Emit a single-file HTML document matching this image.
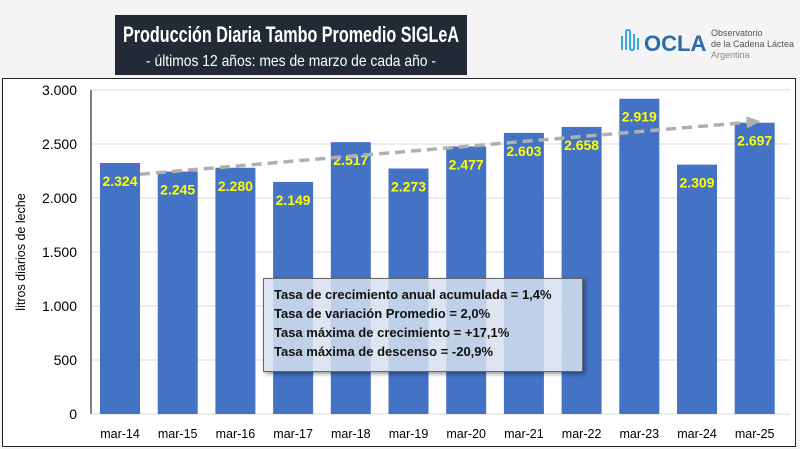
<!DOCTYPE html>
<html><head><meta charset="utf-8"><style>
body{margin:0;width:800px;height:449px;background:#f4f4f4;font-family:"Liberation Sans",sans-serif;overflow:hidden;position:relative}
#title{position:absolute;left:115px;top:15px;width:352px;height:60px;background:#222a35}
#logo{position:absolute;left:618px;top:22px;height:44px}
#frame{position:absolute;left:2px;top:78px;width:792px;height:367px;border:1px solid #222;background:#fff}
#box{position:absolute;left:263px;top:278px;width:320px;height:94px;background:rgba(215,225,240,0.85);border:1px solid #666;box-shadow:2px 2px 4px rgba(0,0,0,.4);font-size:13px;font-weight:bold;line-height:19px;padding:6px 0 0 10px;box-sizing:border-box;color:#111}
</style></head><body>
<div id="frame"></div>
<svg id="chart" width="800" height="449" style="position:absolute;left:0;top:0"></svg>
<svg id="title" width="352" height="60">
<text x="176" y="27" text-anchor="middle" fill="#fff" font-size="22" font-weight="bold" textLength="336" lengthAdjust="spacingAndGlyphs" font-family="Liberation Sans">Producción Diaria Tambo Promedio SIGLeA</text>
<text x="176" y="51" text-anchor="middle" fill="#fff" font-size="16" textLength="290" lengthAdjust="spacingAndGlyphs" font-family="Liberation Sans">- últimos 12 años: mes de marzo de cada año -</text>
</svg>
<svg id="logo" width="180" height="44">
<path d="M4 28 V14 M8 28 V10 Q8 8 10 8 Q12 8 12 10 V26 Q12 28 14 28 Q16 28 16 26 V12 M20 28 V16" stroke="#3aa5d6" stroke-width="2" fill="none"/>
<text x="26" y="29" font-size="22" font-weight="bold" fill="#2b6ca8" font-family="Liberation Sans">OCLA</text>
<text x="93" y="14" font-size="9" fill="#555">Observatorio</text>
<text x="93" y="25" font-size="9" fill="#555">de la Cadena Láctea</text>
<text x="93" y="36" font-size="9" fill="#888">Argentina</text>
</svg>
<div id="box">Tasa de crecimiento anual acumulada = 1,4%<br>Tasa de variación Promedio = 2,0%<br>Tasa máxima de crecimiento = +17,1%<br>Tasa máxima de descenso = -20,9%</div>
<script>
const categories=["mar-14","mar-15","mar-16","mar-17","mar-18","mar-19","mar-20","mar-21","mar-22","mar-23","mar-24","mar-25"];
const values=[2324,2245,2280,2149,2517,2273,2477,2603,2658,2919,2309,2697];
const labels=["2.324","2.245","2.280","2.149","2.517","2.273","2.477","2.603","2.658","2.919","2.309","2.697"];
const ticks=[0,500,1000,1500,2000,2500,3000];
const tickLabels=["0","500","1.000","1.500","2.000","2.500","3.000"];
const trend=[2220,2700];
const svg=document.getElementById('chart');const NS='http://www.w3.org/2000/svg';
const y0=414,yTop=90,x0=91,step=57.7,bw=40;
const Y=v=>y0-(v/3000)*(y0-yTop);
const X=i=>x0+9+bw/2+i*step;
function mk(t,a,p){const e=document.createElementNS(NS,t);for(const k in a)e.setAttribute(k,a[k]);(p||svg).appendChild(e);return e;}
ticks.forEach((t,i)=>{
 if(t>0){const g=mk('line',{x1:x0,x2:790,y1:Y(t),y2:Y(t),stroke:'#d9d9d9'});
 
 }
 const l=mk('text',{x:77,y:Y(t)+5,'text-anchor':'end','font-size':14,fill:'#000'});l.textContent=tickLabels[i];
 
 
});
const ax=mk('line',{x1:x0,x2:x0,y1:yTop,y2:y0,stroke:'#000'});


const ax2=mk('line',{x1:x0,x2:790,y1:y0,y2:y0,stroke:'#d9d9d9'});


const yt=mk('text',{x:0,y:0,transform:'translate(25,252) rotate(-90)','text-anchor':'middle','font-size':12.5});yt.textContent='litros diarios de leche';


values.forEach((v,i)=>{
 const r=mk('rect',{x:X(i)-bw/2,y:Y(v),width:bw,height:y0-Y(v),fill:'#4472c4'});
 
 
 const t=mk('text',{x:X(i),y:Y(v)+23,'text-anchor':'middle','font-size':14,'font-weight':'bold',fill:'#ffff00'});t.textContent=labels[i];
 
 
 const c=mk('text',{x:X(i),y:438,'text-anchor':'middle','font-size':12.5});c.textContent=categories[i];
 
 
});
const xa=X(0)+20,xb=X(11)-8;
const tl=mk('line',{x1:xa,y1:Y(trend[0]),x2:xb,y2:Y(trend[1]),stroke:'#b0b0b0','stroke-width':3.5,'stroke-dasharray':'10 6'});


const ang=Math.atan2(Y(trend[1])-Y(trend[0]),xb-xa);
const hx=xb+14*Math.cos(ang),hy=Y(trend[1])+14*Math.sin(ang);
const ah=mk('polygon',{points:`${hx},${hy} ${xb-6*Math.sin(ang)},${Y(trend[1])+6*Math.cos(ang)} ${xb+6*Math.sin(ang)},${Y(trend[1])-6*Math.cos(ang)}`,fill:'#b0b0b0'});


</script>
</body></html>
